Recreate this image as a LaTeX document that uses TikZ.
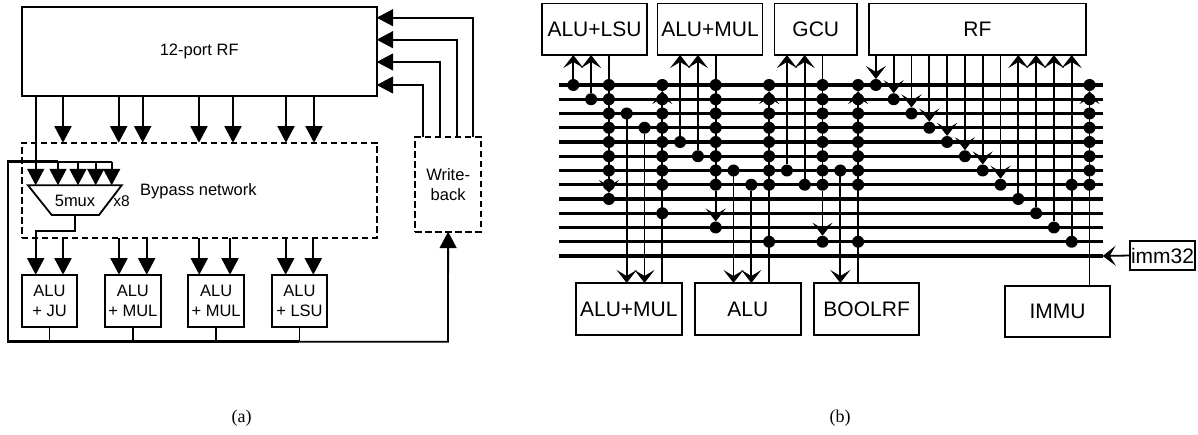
\documentclass[tikz,border=0pt]{standalone}
\usepackage{fontspec}
\setmainfont{Liberation Sans}
\newfontfamily\capfont{Liberation Serif}
\usetikzlibrary{arrows.meta}
\newcommand{\bx}[7][]{%
  \pgfmathsetmacro{\bxw}{#5-#3}\pgfmathsetmacro{\bxh}{#6-#4}%
  \pgfmathsetmacro{\bxx}{(#3+#5)/2}\pgfmathsetmacro{\bxy}{(#4+#6)/2}%
  \node[boxn,#1,minimum width=\bxw pt,minimum height=\bxh pt] (#2) at (\bxx,\bxy) {#7};%
}
\tikzset{
  wire/.style={line width=1.8pt,draw=black,line join=miter},
  thick wire/.style={line width=2.8pt,draw=black,line join=miter},
  mid wire/.style={line width=2.2pt,draw=black},
  busline/.style={line width=3.4pt,draw=black},
  boxn/.style={draw=black,line width=1.7pt,rectangle,inner sep=0pt,outer sep=0pt,align=center,font=\fontsize{16.5}{20.5}\selectfont},
  big/.style={font=\fontsize{21}{25}\selectfont},
  dashbox/.style={dash pattern=on 6.5pt off 3.5pt},
  dotn/.style={circle,fill=black,draw=none,inner sep=0pt,outer sep=0pt,minimum size=12pt},
  tri/.style={-{Triangle[length=16.5pt,width=17pt]}},
  stl/.style={-{Stealth[length=13pt,width=20pt,inset=6pt]}},
  label text/.style={inner sep=0pt,font=\fontsize{16.5}{20.5}\selectfont},
  caption text/.style={inner sep=0pt,font=\capfont\fontsize{18}{20}\selectfont}
}
\begin{document}
\begin{tikzpicture}[x=1pt,y=-1pt]
\useasboundingbox (0,0) rectangle (1198,435);
%%% (a)
\bx{aRF}{21.7}{7.3}{376.7}{95.7}{12-port RF}
\bx[dashbox]{byp}{21.7}{142.7}{376.7}{238}{}
\bx[dashbox]{wb}{415.3}{137.3}{481}{231.7}{Write-\\back}
\bx{a1}{21.7}{274.7}{77.3}{327}{ALU\\+ JU}
\bx{a2}{105}{274.7}{160.7}{327}{ALU\\+ MUL}
\bx{a3}{188.3}{274.7}{244}{327}{ALU\\+ MUL}
\bx{a4}{271.7}{274.7}{327.3}{327}{ALU\\+ LSU}
\node[label text,anchor=west] (byptext) at (140,191.7) {Bypass network};
% RF to bypass
\foreach \x in {63,118.7,142.7,199,233,286,314}{
  \coordinate (t) at (\x,0);
  \draw[wire,tri] (aRF.south -| t) -- (byp.north -| t);
}
% bypass to ALUs
\foreach \x/\n in {63/a1,119/a2,146.7/a2,199.3/a3,230/a3,285.7/a4,313.3/a4}{
  \coordinate (t) at (\x,0);
  \draw[wire,tri] (byp.south -| t) -- (\n.north -| t);
}
% mux
\coordinate (mTL) at (28,185.3);
\coordinate (mTR) at (121.7,185.3);
\coordinate (mBR) at (99,215);
\coordinate (mBL) at (51.7,215);
\coordinate (mOut) at (75,215);
\draw[wire,fill=white] (mTL) -- (mTR) -- (mBR) -- (mBL) -- cycle;
\node[label text] (mtext) at (75,201) {5mux};
\node[label text,font=\fontsize{15.5}{18}\selectfont] (x8) at (121.5,201.5) {x8};
% mux inputs
\coordinate (fbTop) at (111.7,161.7);
\coordinate (fbCorner) at (8,161.7);
\coordinate (railL) at (8,341.7);
\coordinate (railM) at (299.3,341.7);
\coordinate (wbIn) at (448,341.7);
\coordinate (i1) at (35.7,0);
\draw[wire,tri] (aRF.south -| i1) -- (i1 |- mTL);
\foreach \x in {58,78,95.7,111.7}{
  \coordinate (t) at (\x,0);
  \draw[wire,tri] (t |- fbTop) -- (t |- mTL);
}
\draw[thick wire] (railM) -- (railL) -- (fbCorner) -- (58,161.7);
\draw[mid wire] (58,161.7) -- (95.7,161.7);
\draw[wire] (95.7,161.7) -- (fbTop);
% mux output
\coordinate (mDown) at (35.7,230.7);
\draw[wire,tri] (mOut) |- (mDown) -- (a1.north -| mDown);
% ALU outputs
\foreach \n in {a1,a2,a3,a4}{
  \draw[wire] (\n.south) -- (\n.south |- railL);
}
\draw[wire,tri] (railM) -- (wbIn) -- (wb.south);
% write-back
\foreach \x/\y in {423.3/85,440.3/62,456.7/39.7,472.7/17.7}{
  \coordinate (t) at (\x,\y);
  \draw[wire,tri] (wb.north -| t) |- (aRF.east |- t);
}
\node[caption text] (capa) at (241.5,418.5) {(a)};
%%% (b)
\foreach \k in {0,...,29}{ \coordinate (c\k) at ({573.3+17.8*\k},0); }
\foreach \i in {0,...,12}{
  \coordinate (bL\i) at (559,{85+14.25*\i});
  \coordinate (bR\i) at (1102.7,{85+14.25*\i});
  \draw[busline] (bL\i) -- (bR\i);
}
\bx[big]{tL}{542}{3.5}{647}{55}{ALU+LSU}
\bx[big]{tM}{657.5}{3.5}{762.5}{55}{ALU+MUL}
\bx[big]{tG}{774.5}{3.5}{857}{55}{GCU}
\bx[big]{tR}{869}{3.5}{1085.7}{55}{RF}
\bx[big]{bM}{576}{283}{681.7}{335}{ALU+MUL}
\bx[big]{bA}{695}{283}{800.7}{335}{ALU}
\bx[big]{bB}{814}{283}{919.3}{335}{BOOLRF}
\bx[big]{bI}{1005}{286}{1110}{337.3}{IMMU}
\bx[big]{imm}{1130}{241}{1195}{270}{imm32}
\draw[wire,stl] (imm.west) -- (bR12);
% dots: column k on line i
\foreach \k/\i in {0/0,1/1,3/2,4/3,6/4,7/5,9/6,10/7,12/6,13/7,15/6,
  17/0,18/1,19/2,20/3,21/4,22/5,23/6,24/7,25/8,26/9,27/10,28/11,28/7,
  2/8,5/9,8/10,11/11,14/11,16/11}{
  \node[dotn] (d-\k-\i) at (c\k |- bL\i) {};
}
\foreach \k in {2,5,8,11,14,16,29}{
  \foreach \i in {0,...,7}{
    \node[dotn] (d-\k-\i) at (c\k |- bL\i) {};
  }
}
% up into top boxes
\foreach \k/\i/\b in {0/0/tL,1/1/tL,6/4/tM,7/5/tM,12/6/tG,13/7/tG,25/8/tR,26/9/tR,27/10/tR,28/11/tR}{
  \draw[wire,stl] (d-\k-\i) -- (\b.south -| d-\k-\i);
}
% down from RF to its dots
\foreach \k/\i in {17/0,18/1,19/2,20/3,21/4,22/5,23/6,24/7}{
  \draw[wire,stl] (tR.south -| d-\k-\i) -- (d-\k-\i);
}
% down into bottom boxes
\foreach \k/\i/\b in {3/2/bM,4/3/bM,9/6/bA,10/7/bA,15/6/bB}{
  \draw[wire,stl] (d-\k-\i) -- (\b.north -| d-\k-\i);
}
% columns from a top box, arrow into a lower dot
\foreach \k/\i/\b in {2/8/tL,8/10/tM,14/11/tG}{
  \draw[wire] (\b.south -| d-\k-0) -- (d-\k-7);
  \draw[wire,stl] (d-\k-7) -- (d-\k-\i);
}
% columns from a bottom box, arrow into the top dot
\foreach \k/\b in {5/bM,11/bA,16/bB,29/bI}{
  \draw[wire] (\b.north -| d-\k-0) -- (d-\k-1);
  \draw[wire,stl] (d-\k-1) -- (d-\k-0);
}
\node[caption text] (capb) at (840,418.5) {(b)};
\end{tikzpicture}
\end{document}
